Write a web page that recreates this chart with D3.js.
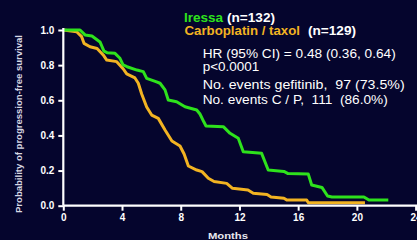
<!DOCTYPE html>
<html><head><meta charset="utf-8">
<script src="https://cdn.jsdelivr.net/npm/d3@7"></script>
<style>html,body{margin:0;padding:0;background:#05052d;}svg{display:block;}</style>
</head><body>
<svg id="c" width="417" height="240"></svg>
<script>
const xTicks = [0,4,8,12,16,20,24];
const yTicks = [0.0,0.2,0.4,0.6,0.8,1.0];
const iressaT = [0,1.14,1.48,1.95,2.50,2.77,2.98,3.52,3.86,4.07,4.34,5.02,5.45,5.68,6.31,6.59,6.93,7.15,7.72,8.29,9.09,9.31,9.58,9.72,10.90,11.36,11.92,12.26,13.51,13.96,15.03,15.31,16.69,16.92,17.62,18.00,18.30,20.48,20.82,22.14];
const iressaS = [1.0,1.0,0.972,0.966,0.932,0.880,0.871,0.867,0.839,0.801,0.791,0.772,0.763,0.725,0.706,0.697,0.659,0.602,0.592,0.563,0.545,0.522,0.476,0.454,0.450,0.412,0.384,0.307,0.298,0.203,0.195,0.183,0.180,0.118,0.104,0.055,0.050,0.050,0.032,0.032];
const carboT = [0,0.91,1.25,1.41,1.82,2.30,2.72,2.96,3.64,4.09,4.32,4.88,5.11,5.34,5.68,6.02,6.47,6.93,7.40,7.95,8.23,8.52,9.09,9.45,9.88,10.27,11.13,11.53,12.58,12.94,13.88,14.15,15.03,15.24,16.58,16.69,20.55];
const carboS = [1.0,0.990,0.962,0.924,0.905,0.895,0.858,0.829,0.820,0.778,0.750,0.727,0.697,0.636,0.562,0.516,0.497,0.431,0.368,0.340,0.294,0.226,0.203,0.194,0.156,0.138,0.127,0.099,0.089,0.071,0.064,0.050,0.042,0.032,0.032,0.017,0.017];
const legendNames = ["Iressa", "Carboplatin / taxol"];
const legendCounts = ["(n=132)", "(n=129)"];
const infoLines = ["HR (95% CI) = 0.48 (0.36, 0.64)", "p<0.0001", "No. events gefitinib,  97 (73.5%)", "No. events C / P,  111  (86.0%)"];

const svg = d3.select("#c");
const x = d3.scaleLinear().domain([0,24]).range([63.3,415.6]);
const y = d3.scaleLinear().domain([0,1]).range([205.7,30]);
const font = "'Liberation Sans', Arial, sans-serif";
const GREEN = "#2ee21c", ORANGE = "#f2b322";

const line = d3.line().x(d=>x(d[0])).y(d=>y(d[1]));
const gS = iressaT.map((t,i)=>[t,iressaS[i]]);
const cS = carboT.map((t,i)=>[t,carboS[i]]);

svg.append("path").attr("d", line(cS)).attr("fill","none").attr("stroke",ORANGE).attr("stroke-width",3).attr("stroke-linejoin","round");
svg.append("path").attr("d", line(gS)).attr("fill","none").attr("stroke",GREEN).attr("stroke-width",3).attr("stroke-linejoin","round");

// axes
const xa = svg.append("g").attr("transform","translate(0,205.7)")
  .call(d3.axisBottom(x).tickValues(xTicks).tickFormat(d3.format("d")).tickSize(5).tickPadding(3));
xa.select(".domain").attr("d","M63.3,0H417");
const ya = svg.append("g").attr("transform","translate(63.3,0)")
  .call(d3.axisLeft(y).tickValues(yTicks).tickFormat(d3.format(".1f")).tickSize(5).tickPadding(4));
ya.select(".domain").attr("d","M0,28V205.7");
[xa,ya].forEach(a=>{
  a.selectAll(".domain").attr("stroke","#ffffff").attr("stroke-width",2.2);
  a.selectAll(".tick line").attr("stroke","#ffffff").attr("stroke-width",2);
  a.selectAll("text").attr("fill","#ffffff").attr("font-family",font).attr("font-weight","bold").attr("font-size",10);
});

function txt(s, x0, yb, len, opts){
  const t = svg.append("text").attr("x",x0).attr("y",yb).attr("font-family",font)
    .attr("font-size",opts.size).attr("fill",opts.fill)
    .attr("font-weight",opts.bold?"bold":"normal")
    .attr("textLength",len).attr("lengthAdjust","spacingAndGlyphs")
    .style("white-space","pre").text(s);
  return t;
}

txt("Months", 208, 239, 40, {size:9.5, fill:"#e8e8f0", bold:true});
svg.append("text").attr("transform","translate(22,213) rotate(-90)")
  .attr("fill","#d8d8e4").attr("font-family",font).attr("font-weight","bold").attr("font-size",9.5)
  .attr("textLength",178).attr("lengthAdjust","spacingAndGlyphs").text("Probability of progression-free survival");

// legend
txt(legendNames[0], 184, 21.5, 39, {size:12.5, fill:GREEN, bold:true});
txt(legendCounts[0], 227, 21.5, 48, {size:12.5, fill:"#ffffff", bold:true});
txt(legendNames[1], 184.5, 35, 115.5, {size:12.5, fill:ORANGE, bold:true});
txt(legendCounts[1], 308, 35, 48, {size:12.5, fill:"#ffffff", bold:true});

// info
const infoY = [57.5, 70.8, 89, 104];
const infoLen = [193, 56.5, 202, 185];
infoLines.forEach((s,i)=> txt(s, 202.7, infoY[i], infoLen[i], {size:12, fill:"#ffffff", bold:false}));
</script>
</body></html>
